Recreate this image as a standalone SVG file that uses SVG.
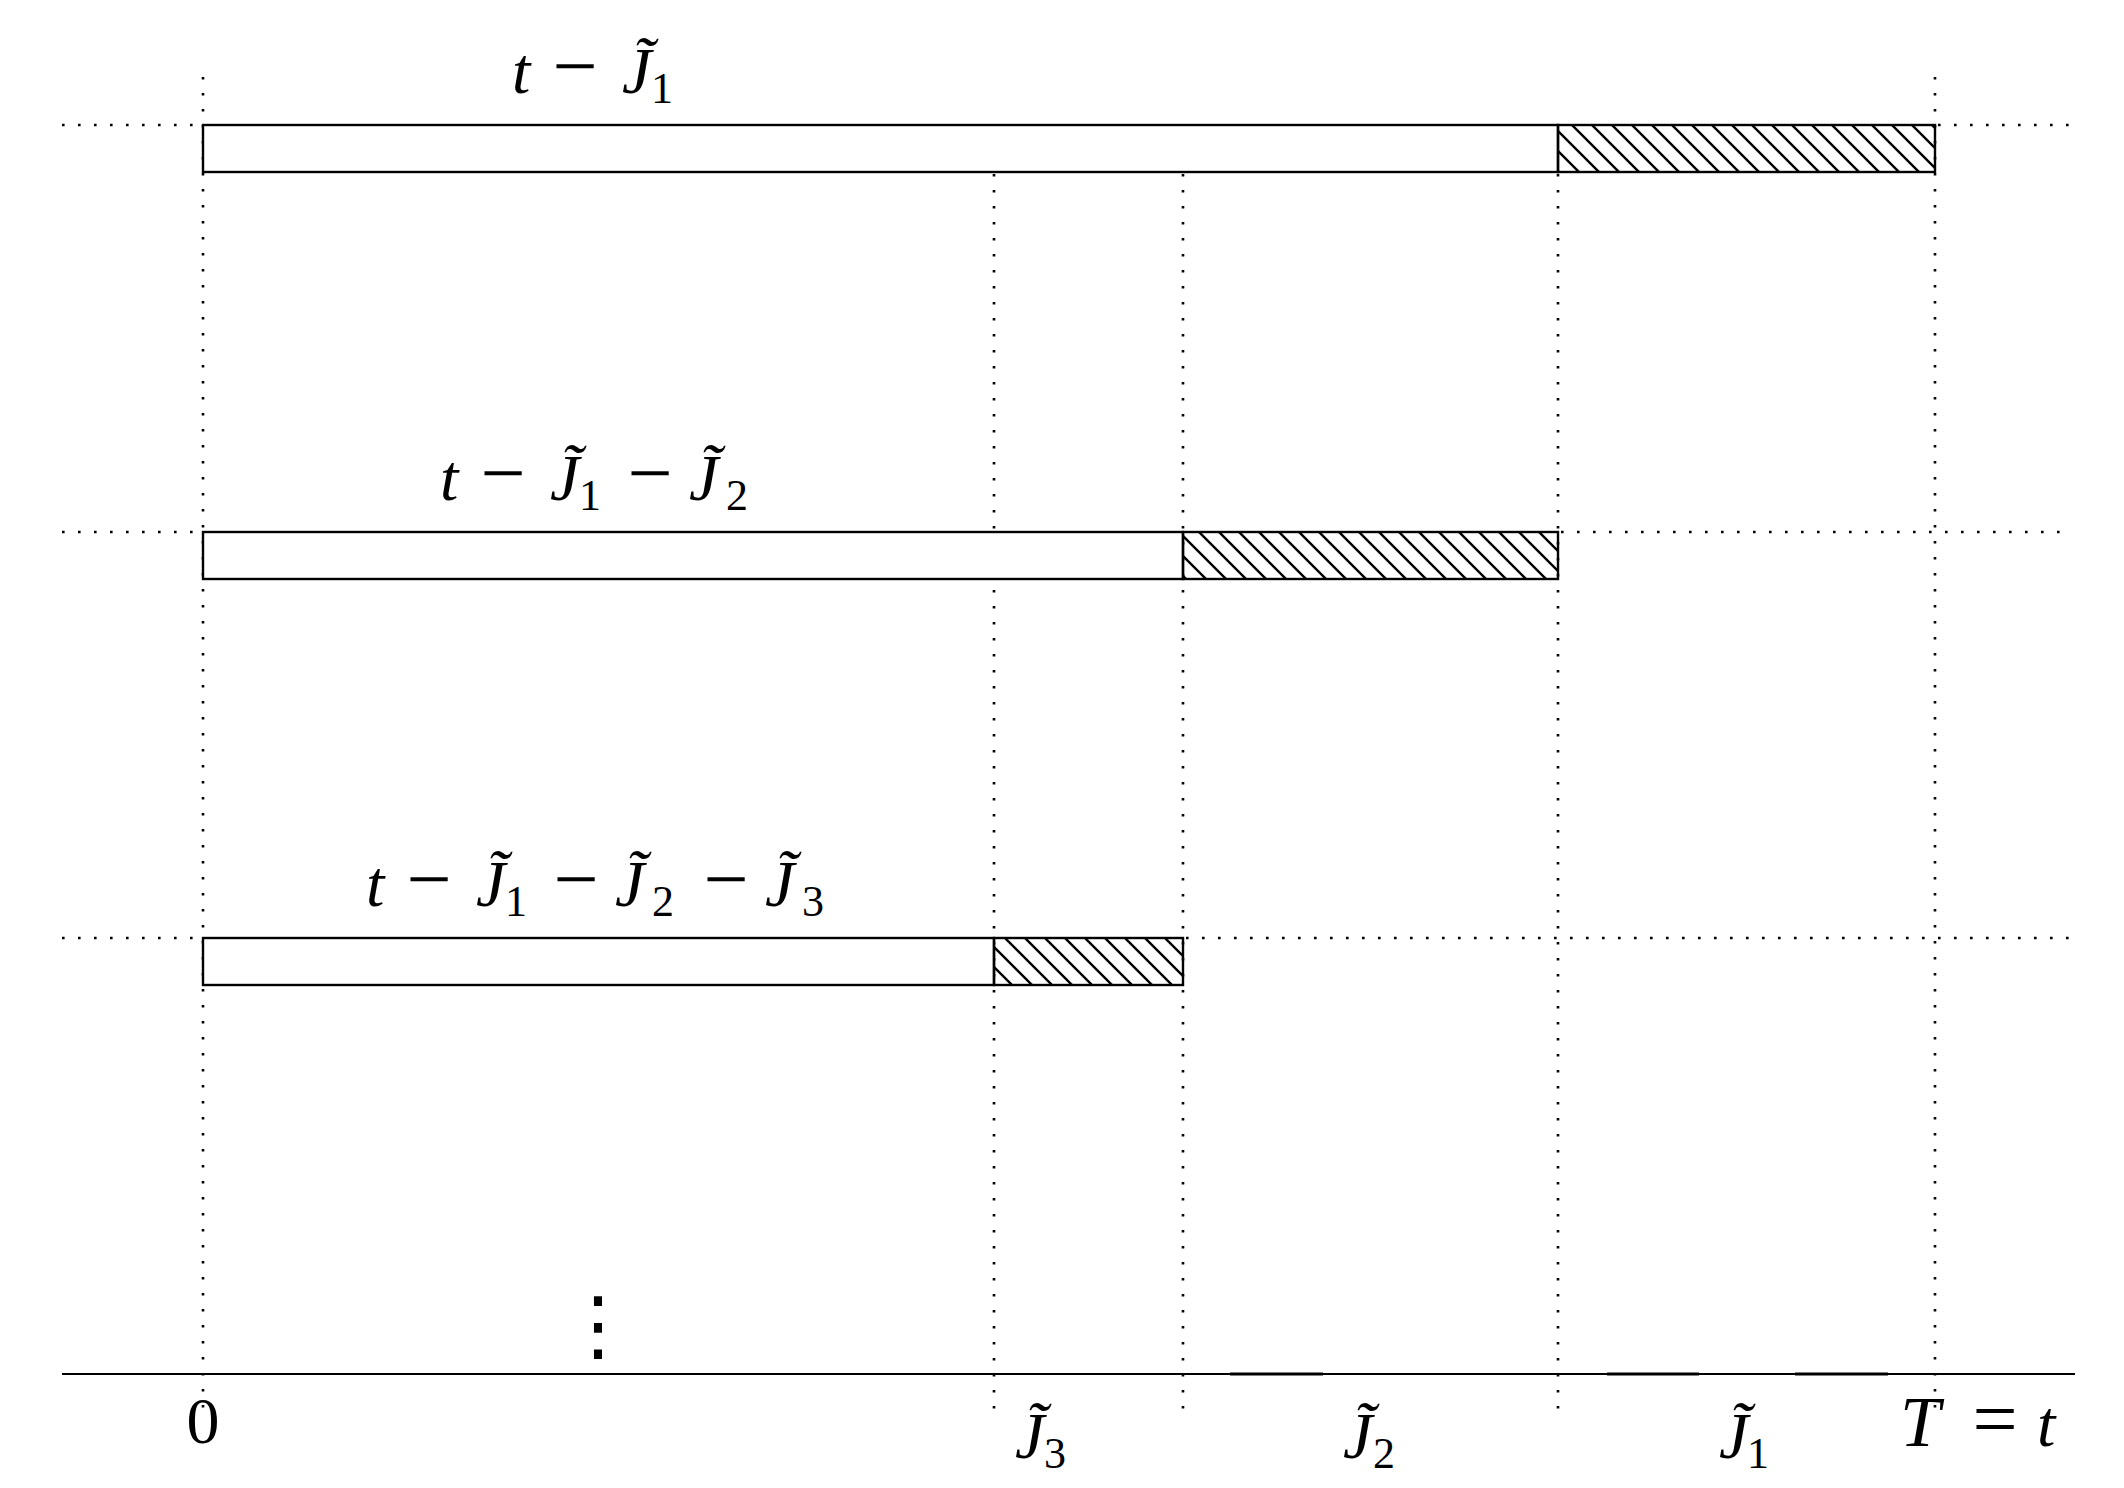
<svg xmlns="http://www.w3.org/2000/svg" width="2124" height="1488" viewBox="0 0 2124 1488">
<style>
.dot{stroke:#000;stroke-width:2.6;stroke-dasharray:2.6 13.4;fill:none}
.bar{fill:#fff;stroke:#000;stroke-width:2.4}
.hatch{fill:url(#nwl);stroke:#000;stroke-width:2.4}
.axis{stroke:#000;stroke-width:2.2;fill:none}
.m{font-family:"Liberation Serif",serif;font-size:66px;fill:#000}
.i{font-style:italic}
.s{font-size:44px;font-style:normal}
.op{font-size:80px;font-style:normal}
.big{font-size:72px}
.v{font-family:"DejaVu Sans",sans-serif;font-size:78px;fill:#000}
</style>
<defs>
<pattern id="nwl" patternUnits="userSpaceOnUse" width="20" height="20" patternTransform="translate(7 0)">
<path d="M-2,-2 L22,22 M18,-2 L22,2 M-2,18 L2,22" stroke="#000" stroke-width="2.4"/>
</pattern>
</defs>
<rect width="2124" height="1488" fill="#fff"/>
<g id="connectors">
<line class="dot" x1="203" y1="77" x2="203" y2="1416"/>
<line class="dot" x1="994" y1="174" x2="994" y2="1416"/>
<line class="dot" x1="1183" y1="174" x2="1183" y2="1416"/>
<line class="dot" x1="1558" y1="174" x2="1558" y2="1416"/>
<line class="dot" x1="1935" y1="77" x2="1935" y2="1416"/>
<line class="dot" x1="62" y1="125" x2="203" y2="125"/>
<line class="dot" x1="1938" y1="125" x2="2070" y2="125"/>
<line class="dot" x1="62" y1="532" x2="203" y2="532"/>
<line class="dot" x1="1561" y1="532" x2="2070" y2="532"/>
<line class="dot" x1="62" y1="938" x2="203" y2="938"/>
<line class="dot" x1="1186" y1="938" x2="2070" y2="938"/>
<line class="axis" x1="62" y1="1374" x2="2075" y2="1374"/>
<path d="M1230,1374 H1323 M1607,1374 H1699 M1795,1374 H1888" stroke="#000" stroke-width="3"/>
</g>
<g id="row1">
<rect class="bar" x="203" y="125" width="1355" height="47"/>
<rect class="hatch" x="1558" y="125" width="377" height="47"/>
<text class="m" y="93"><tspan class="i" x="512">t</tspan><tspan class="op" x="552.5">−</tspan><tspan class="i" x="622">J̃</tspan><tspan class="s" x="651" dy="10">1</tspan></text>
</g>
<g id="row2">
<rect class="bar" x="203" y="532" width="980" height="47"/>
<rect class="hatch" x="1183" y="532" width="375" height="47"/>
<text class="m" y="500"><tspan class="i" x="440">t</tspan><tspan class="op" x="480.5">−</tspan><tspan class="i" x="550">J̃</tspan><tspan class="s" x="579" dy="10">1</tspan><tspan class="op" x="627.5" dy="-10">−</tspan><tspan class="i" x="689">J̃</tspan><tspan class="s" x="726" dy="10">2</tspan></text>
</g>
<g id="row3">
<rect class="bar" x="203" y="938" width="791" height="47"/>
<rect class="hatch" x="994" y="938" width="189" height="47"/>
<text class="m" y="906"><tspan class="i" x="366">t</tspan><tspan class="op" x="406.5">−</tspan><tspan class="i" x="476">J̃</tspan><tspan class="s" x="505" dy="10">1</tspan><tspan class="op" x="553.5" dy="-10">−</tspan><tspan class="i" x="615">J̃</tspan><tspan class="s" x="652" dy="10">2</tspan><tspan class="op" x="703.5" dy="-10">−</tspan><tspan class="i" x="765">J̃</tspan><tspan class="s" x="802" dy="10">3</tspan></text>
</g>
<g id="ellipsis">
<text class="v" x="598" y="1352" text-anchor="middle">⋮</text>
</g>
<g id="axis-labels">
<text class="m" x="203" y="1443" text-anchor="middle">0</text>
<text class="m" y="1458"><tspan class="i" x="1015">J̃</tspan><tspan class="s" x="1044" dy="10">3</tspan></text>
<text class="m" y="1458"><tspan class="i" x="1343">J̃</tspan><tspan class="s" x="1373" dy="10">2</tspan></text>
<text class="m" y="1458"><tspan class="i" x="1719">J̃</tspan><tspan class="s" x="1747" dy="10">1</tspan></text>
<text class="m" y="1446"><tspan class="i big" x="1900">T</tspan><tspan class="op" x="1972.5">=</tspan><tspan class="i" x="2037">t</tspan></text>
</g>
</svg>
